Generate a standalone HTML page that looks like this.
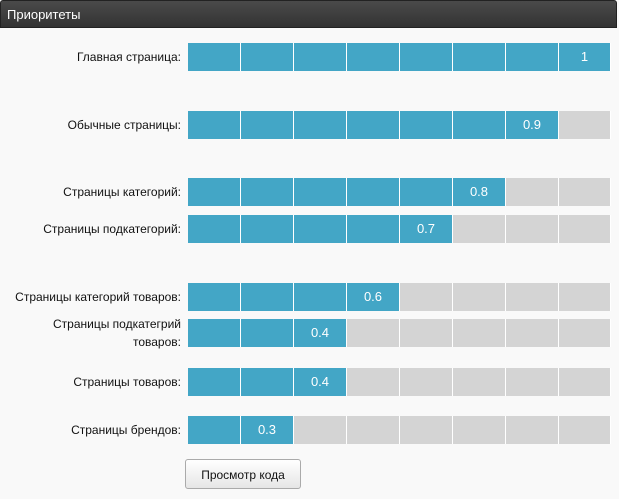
<!DOCTYPE html>
<html><head><meta charset="utf-8"><style>
body{margin:0;width:619px;height:499px;background:#f9f9f9;font-family:"Liberation Sans",sans-serif;position:relative;overflow:hidden}
#hdr{position:absolute;left:0;top:0;width:617px;height:28px;background:linear-gradient(#4a4a4a,#333);border:1px solid #222;border-radius:3px 3px 0 0;color:#fff;font-size:13px;line-height:28px;padding-left:6px;box-sizing:border-box}
.lbl{position:absolute;right:438px;font-size:12px;color:#111;text-align:right;line-height:18px}
.cell{position:absolute;height:28px;box-sizing:border-box;border-right:1px solid #fff;color:#fff;font-size:13px;text-align:center;line-height:28px}
#btn{position:absolute;left:185px;top:459px;width:116px;height:30px;border:1px solid #aaa;border-radius:3px;background:linear-gradient(#fff,#e6e6e6);font-size:12px;text-align:center;line-height:30px;box-sizing:border-box;color:#111}
</style></head><body>
<div id="hdr">Приоритеты</div>
<div id="chart"></div>
<div id="btn">Просмотр кода</div>
<script>
const categories=["Главная страница:","Обычные страницы:","Страницы категорий:","Страницы подкатегорий:","Страницы категорий товаров:","Страницы подкатегрий<br>товаров:","Страницы товаров:","Страницы брендов:"];
const values=[1,0.9,0.8,0.7,0.6,0.4,0.4,0.3];
const rowTops=[43,111,178,215,283,319,368,416];
const segments=8,x0=188,segW=53;
const chart=document.getElementById('chart');
categories.forEach((c,i)=>{
  const y=rowTops[i];
  const l=document.createElement('div');
  l.className='lbl';
  
  
  l.innerHTML=c;
  const lines=c.split('<br>').length;
  l.style.top=(y+14-lines*9)+'px';
  chart.appendChild(l);
  const filled=Math.floor(values[i]*segments+1e-9);
  for(let s=0;s<segments;s++){
    const d=document.createElement('div');
    d.className='cell';
    
    
    d.style.left=(x0+s*segW)+'px';d.style.top=y+'px';
    d.style.width=(s==segments-1?segW-1:segW)+'px';
    d.style.background=s<filled?'#43a6c6':'#d4d4d4';
    if(s==filled-1)d.textContent=String(values[i]);
    chart.appendChild(d);
  }
});
</script>
</body></html>
